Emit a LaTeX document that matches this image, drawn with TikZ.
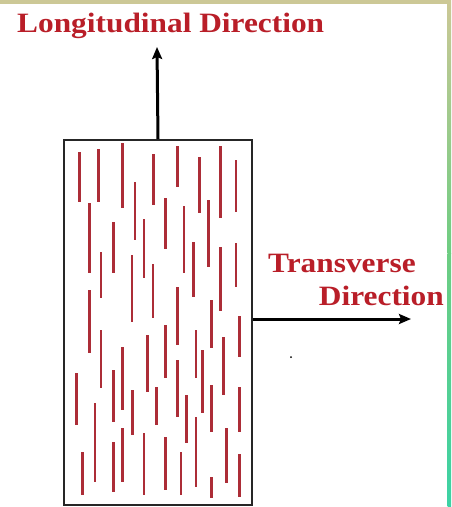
\documentclass[tikz,border=0pt]{standalone}
\usepackage{fontspec}
\setmainfont{Liberation Serif}
\newfontfamily\lblfont[FakeStretch=1.12]{Liberation Serif}
\usetikzlibrary{arrows.meta}
\definecolor{fibrecol}{RGB}{172,45,55}
\definecolor{labelcol}{RGB}{185,30,40}
\definecolor{frametan}{RGB}{204,200,150}
\definecolor{framegreen}{RGB}{110,205,130}
\definecolor{frameteal}{RGB}{60,210,165}
\begin{document}
\begin{tikzpicture}[x=1pt,y=-1pt,
  fibre/.style={draw=fibrecol,line width=2.6pt},
  panel/.style={draw=black!85,line width=2pt,minimum width=188pt,minimum height=365pt,inner sep=0pt},
  dirarrow/.style={draw=black,line width=3pt,-{Stealth[length=12pt,width=10pt,inset=2pt]}},
  dirlabel/.style={text=labelcol,font=\lblfont\bfseries\fontsize{28}{30}\selectfont,inner sep=0pt}]
\useasboundingbox (0,0) rectangle (451,507);
\fill[white] (0,0) rectangle (451,507);
% frame strips
\fill[frametan] (0,0) rectangle (451,3.5);
\shade[top color=frametan,bottom color=framegreen] (447.5,0) rectangle (451,253);
\shade[top color=framegreen,bottom color=frameteal] (447.5,253) rectangle (451,507);
% panel
\node[panel,anchor=north west] (box) at (63,139) {};
% fibres
\foreach \x/\a/\b in {79.3/152/202, 98.3/149/202, 122.5/143/208, 135/182/240, 153.3/154/205,
  177.3/146/187, 199.3/157/213, 220.7/146/218, 236/160/212, 89.3/203/273, 113.3/222/273,
  144/219/278, 165.7/198/249, 184/206/273, 208.3/200/267, 101/252/298, 132/255/322,
  153/264/318, 193.3/242/297, 220.7/247/311, 236/243/287, 89.3/290/353, 177.3/287/345,
  211.7/300/348, 239.3/316/357, 101/330/388, 147.3/335/392, 165.7/325/378, 196/330/378,
  202.7/350/413, 223.3/337/395, 76.7/373/425, 122.7/347/410, 113.3/370/422, 177.7/360/417,
  95/403/482, 132.3/390/435, 156.7/387/425, 186.7/395/443, 211.7/385/432, 239.3/387/432,
  196/417/487, 226.7/428/483, 82.7/452/495, 113.3/442/492, 122.7/428/482, 144/433/495,
  165.7/437/490, 181/452/495, 211.7/477/498, 239.3/454/497}
  \draw[fibre] (\x,\a) -- (\x,\b);
% arrows
\coordinate (ltip) at (157,47);
\coordinate (ttip) at (411,319);
\draw[dirarrow] (box.north) -- (ltip);
\draw[dirarrow] (ttip -| box.east) -- (ttip);
% labels
\node[dirlabel,anchor=base west] (lng) at (17,32) {Longitudinal Direction};
\node[dirlabel,anchor=base west] (trn) at (268,272) {Transverse};
\node[dirlabel,anchor=base east] (trd) at (444,305) {Direction};
% speck
\fill[black] (291,357) circle (1pt);
\end{tikzpicture}
\end{document}
